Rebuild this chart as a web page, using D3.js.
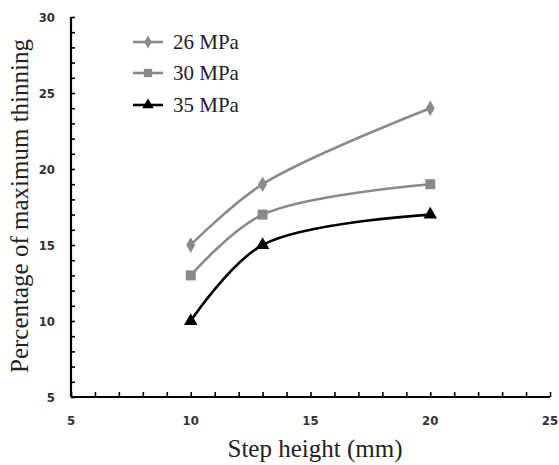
<!DOCTYPE html>
<html>
<head>
<meta charset="utf-8">
<script src="https://cdn.jsdelivr.net/npm/d3@7"></script>
<style>
  body { margin: 0; background: #fff; }
</style>
</head>
<body>
<div id="chart"></div>
<script>
// step heights (mm)
let stepHeight = [10, 13, 20]
let thin26 = [15, 19, 24]
let thin30 = [13, 17, 19]
let thin35 = [10, 15, 17]
let seriesNames = ["26 MPa", "30 MPa", "35 MPa"]
let xTicks = [5, 10, 15, 20, 25]
let yTicks = [5, 10, 15, 20, 25, 30]

let svg = d3.select("#chart").append("svg")
svg.attr("width", 559).attr("height", 465)

let x = d3.scaleLinear().domain([5, 25]).range([71, 550])
let y = d3.scaleLinear().domain([5, 30]).range([397, 17])

let axisLayer = svg.append("g")

// minor ticks every 1 unit, pointing inward
axisLayer.append("g").attr("transform", "translate(71,0)")
  .call(d3.axisRight(y).tickValues(d3.range(5, 31, 1)).tickSize(4).tickFormat(""))
  .call(g => g.select(".domain").attr("stroke-width", 2.2).attr("d", "M0,17V397"))
  .call(g => g.selectAll(".tick line").attr("stroke-width", 1.6))

axisLayer.append("g").attr("transform", "translate(0,397)")
  .call(d3.axisTop(x).tickValues(d3.range(5, 26, 1)).tickSize(5).tickFormat(""))
  .call(g => g.select(".domain").attr("stroke-width", 2.2).attr("d", "M71,0H550"))
  .call(g => g.selectAll(".tick line").attr("stroke-width", 1.6))

let tickFont = "'DejaVu Sans Condensed', 'DejaVu Sans', sans-serif"

axisLayer.selectAll(".ylab").data(yTicks).enter().append("text")
  .attr("x", 55).attr("y", d => y(d) + 5)
  .attr("text-anchor", "end")
  .attr("font-family", tickFont).attr("font-weight", "bold")
  .attr("font-size", 13).attr("fill", "#333")
  .text(d => d)

axisLayer.selectAll(".xlab").data(xTicks).enter().append("text")
  .attr("x", d => x(d)).attr("y", 425)
  .attr("text-anchor", "middle")
  .attr("font-family", tickFont).attr("font-weight", "bold")
  .attr("font-size", 13).attr("fill", "#333")
  .text(d => d)

svg.append("text")
  .attr("transform", "translate(28,206) rotate(-90)")
  .attr("text-anchor", "middle")
  .attr("font-family", "'Liberation Serif', 'Times New Roman', serif")
  .attr("font-size", 25).attr("fill", "#222")
  .text("Percentage of maximum thinning")

svg.append("text")
  .attr("x", 315).attr("y", 457)
  .attr("text-anchor", "middle")
  .attr("font-family", "'Liberation Serif', 'Times New Roman', serif")
  .attr("font-size", 25).attr("fill", "#222")
  .text("Step height (mm)")

let series = [
  {name: seriesNames[0], vals: thin26, color: "#8a8a8a", sym: d3.symbolDiamond, size: 70},
  {name: seriesNames[1], vals: thin30, color: "#8a8a8a", sym: d3.symbolSquare, size: 100},
  {name: seriesNames[2], vals: thin35, color: "#000000", sym: d3.symbolTriangle, size: 80}
]

let line = d3.line()
  .x(d => x(d[0])).y(d => y(d[1]))
  .curve(d3.curveCatmullRom.alpha(0.5))

let plotlayer = svg.append("g")
series.forEach(s => {
  let pts = stepHeight.map((h, i) => [h, s.vals[i]])
  plotlayer.append("path").attr("d", line(pts))
    .attr("fill", "none").attr("stroke", s.color).attr("stroke-width", 2.6)
  pts.forEach(p => {
    plotlayer.append("path")
      .attr("d", d3.symbol().type(s.sym).size(s.size)())
      .attr("transform", "translate(" + x(p[0]) + "," + y(p[1]) + ")")
      .attr("fill", s.color)
  })
})

// legend
let legendY = [42, 73, 105]
series.forEach((s, i) => {
  let g = svg.append("g").attr("transform", "translate(0," + legendY[i] + ")")
  g.append("line").attr("x1", 133).attr("x2", 163).attr("y1", 0).attr("y2", 0)
    .attr("stroke", s.color).attr("stroke-width", 2.6)
  g.append("path").attr("d", d3.symbol().type(s.sym).size(s.size * 0.7)())
    .attr("transform", "translate(148,0)").attr("fill", s.color)
  g.append("text").attr("x", 173).attr("y", 7)
    .attr("font-family", "'Liberation Serif', 'Times New Roman', serif")
    .attr("font-size", 21).attr("fill", "#222")
    .text(s.name)
})
</script>
</body>
</html>
